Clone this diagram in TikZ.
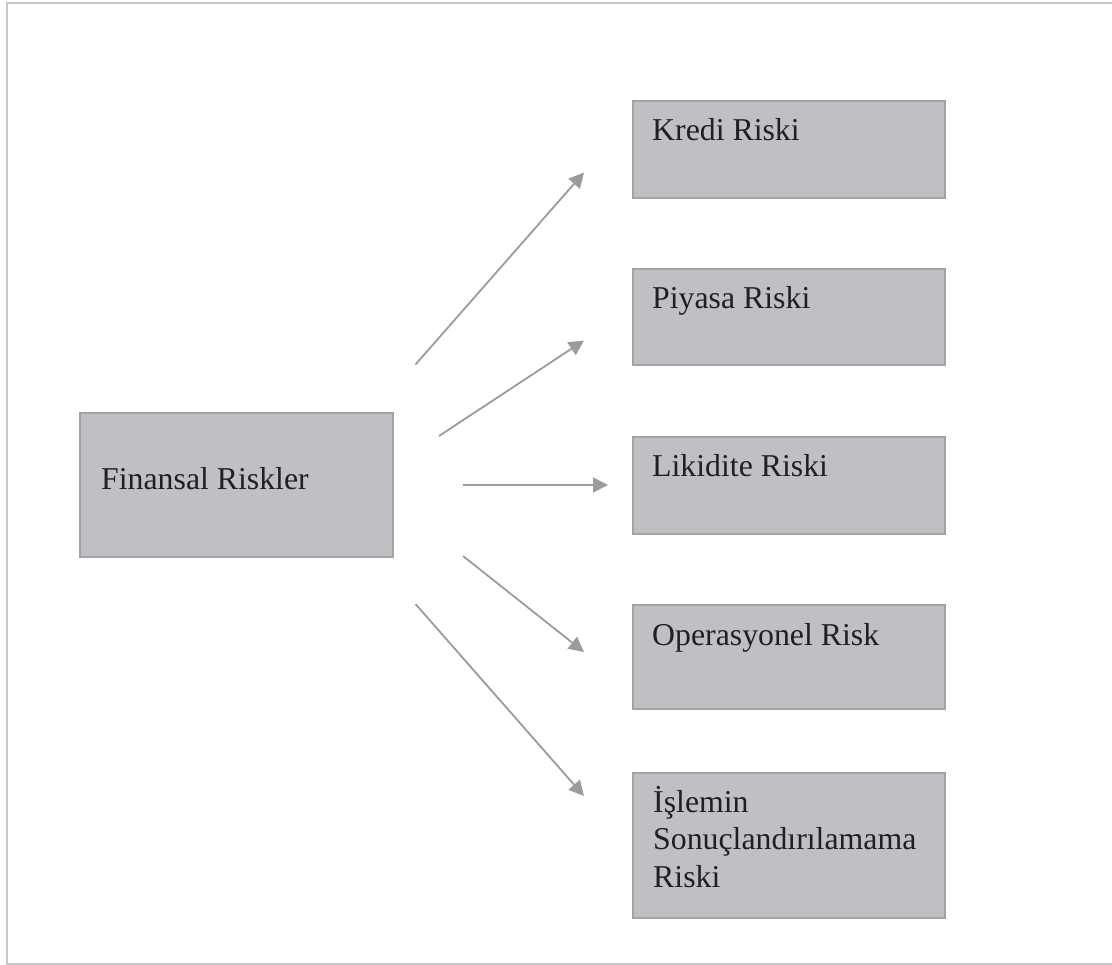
\documentclass[tikz,border=0pt]{standalone}
\usepackage{fontspec}
\setmainfont{Liberation Serif}
\usetikzlibrary{arrows.meta}
\definecolor{boxfill}{HTML}{BFC0C4}
\definecolor{boxline}{HTML}{A2A3A7}
\definecolor{arrowgray}{HTML}{9A9B9F}
\definecolor{framegray}{HTML}{C8C8CC}
\definecolor{ink}{HTML}{231F20}
\begin{document}
\begin{tikzpicture}[x=1pt,y=-1pt,
  riskbox/.style={draw=boxline, fill=boxfill, line width=2pt, rectangle, inner sep=0pt, anchor=north west},
  risklabel/.style={anchor=base west, inner sep=0pt, text=ink, font=\fontsize{31.8}{37.5}\selectfont, align=left},
  link/.style={draw=arrowgray, line width=1.8pt, -{Triangle[length=15pt,width=15pt]}}]
\useasboundingbox (0,0) rectangle (1112,965);
% outer frame
\draw[framegray, line width=2pt] (1120,3) -- (7,3) -- (7,964) -- (1120,964);

% boxes
\node[riskbox, minimum width=313pt, minimum height=144pt] (fin) at (79,412) {};
\node[riskbox, minimum width=312pt, minimum height=97pt] (kredi) at (632,100) {};
\node[riskbox, minimum width=312pt, minimum height=96pt] (piyasa) at (632,268) {};
\node[riskbox, minimum width=312pt, minimum height=97pt] (likidite) at (632,436) {};
\node[riskbox, minimum width=312pt, minimum height=104pt] (oper) at (632,604) {};
\node[riskbox, minimum width=312pt, minimum height=145pt] (islem) at (632,772) {};

% labels (base anchor = baseline of the last line)
\node[risklabel] (finT) at (101,490) {Finansal Riskler};
\node[risklabel] (krediT) at (652,141) {Kredi Riski};
\node[risklabel] (piyasaT) at (652,309) {Piyasa Riski};
\node[risklabel] (likiditeT) at (652,477) {Likidite Riski};
\node[risklabel] (operT) at (652,645) {Operasyonel Risk};
\node[risklabel] (islemT) at (653,887) {İşlemin\\Sonuçlandırılamama\\Riski};

% arrow ends
\coordinate (s1) at (415.5,364.5); \coordinate (e1) at (584,172.5);
\coordinate (s2) at (439,436);     \coordinate (e2) at (584,340.5);
\coordinate (s3) at (463,485);     \coordinate (e3) at (608,485);
\coordinate (s4) at (463,556);     \coordinate (e4) at (584,652);
\coordinate (s5) at (415.5,604);   \coordinate (e5) at (584,796);

\draw[link] (s1) -- (e1);
\draw[link] (s2) -- (e2);
\draw[link] (s3) -- (e3);
\draw[link] (s4) -- (e4);
\draw[link] (s5) -- (e5);
\end{tikzpicture}
\end{document}
